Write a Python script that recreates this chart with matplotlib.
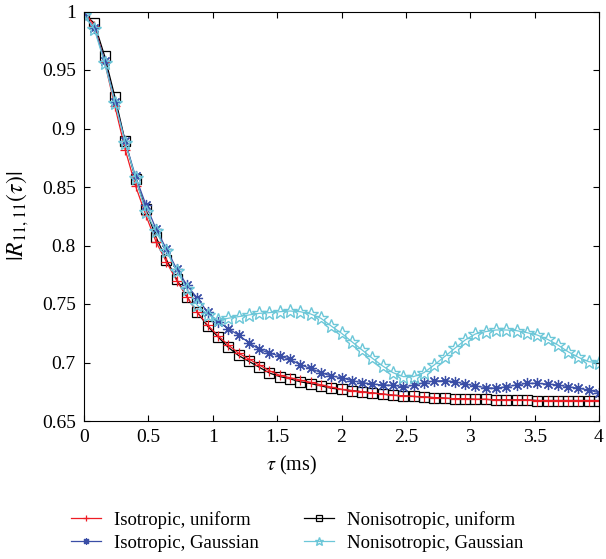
import numpy as np
import matplotlib
matplotlib.use("Agg")
import matplotlib.pyplot as plt
from matplotlib.ticker import FuncFormatter

plt.rcParams['font.family'] = ['Liberation Serif', 'DejaVu Serif']
plt.rcParams['mathtext.fontset'] = 'stix'

# sample times (ms)
tau = [0.00, 0.08, 0.16, 0.24, 0.32, 0.40, 0.48, 0.56, 0.64, 0.72,
       0.80, 0.88, 0.96, 1.04, 1.12, 1.20, 1.28, 1.36, 1.44, 1.52,
       1.60, 1.68, 1.76, 1.84, 1.92, 2.00, 2.08, 2.16, 2.24, 2.32,
       2.40, 2.48, 2.56, 2.64, 2.72, 2.80, 2.88, 2.96, 3.04, 3.12,
       3.20, 3.28, 3.36, 3.44, 3.52, 3.60, 3.68, 3.76, 3.84, 3.92, 4.00]

iso_uniform = [1.000, 0.988, 0.957, 0.919, 0.882, 0.851, 0.826, 0.803, 0.786, 0.770,
               0.756, 0.743, 0.732, 0.723, 0.715, 0.708, 0.703, 0.698, 0.693, 0.689,
               0.687, 0.685, 0.683, 0.681, 0.679, 0.677, 0.676, 0.675, 0.674, 0.673,
               0.672, 0.6715, 0.671, 0.6705, 0.670, 0.6695, 0.669, 0.669, 0.6685, 0.6685,
               0.668, 0.668, 0.668, 0.668, 0.6675, 0.6675, 0.6675, 0.6675, 0.6675, 0.6675, 0.6675]

noniso_uniform = [0.998, 0.990, 0.962, 0.927, 0.889, 0.857, 0.831, 0.807, 0.788, 0.771,
                  0.756, 0.743, 0.731, 0.722, 0.713, 0.706, 0.701, 0.696, 0.691, 0.688,
                  0.686, 0.6835, 0.682, 0.680, 0.678, 0.677, 0.676, 0.675, 0.674, 0.673,
                  0.672, 0.6715, 0.671, 0.6705, 0.670, 0.6695, 0.669, 0.669, 0.6685, 0.6685,
                  0.668, 0.668, 0.668, 0.668, 0.6675, 0.6675, 0.6675, 0.6675, 0.6675, 0.6675, 0.6675]

iso_gauss = [0.997, 0.986, 0.958, 0.923, 0.889, 0.859, 0.835, 0.814, 0.797, 0.780,
             0.766, 0.755, 0.743, 0.735, 0.729, 0.7235, 0.717, 0.7113, 0.708, 0.7056,
             0.7027, 0.698, 0.695, 0.6913, 0.6885, 0.687, 0.6845, 0.6828, 0.6816, 0.6808,
             0.6805, 0.6793, 0.6805, 0.6828, 0.6842, 0.6845, 0.6836, 0.6816, 0.680, 0.6785,
             0.678, 0.6793, 0.6808, 0.6822, 0.6822, 0.6816, 0.6808, 0.6793, 0.678, 0.6765, 0.6742]

noniso_gauss = [0.997, 0.985, 0.956, 0.922, 0.888, 0.858, 0.8285, 0.812, 0.795, 0.7785,
                0.7626, 0.749, 0.741, 0.736, 0.7378, 0.7392, 0.7406, 0.742, 0.7426, 0.7434,
                0.744, 0.7434, 0.7415, 0.7378, 0.7312, 0.725, 0.7178, 0.7107, 0.7036, 0.697,
                0.6913, 0.6879, 0.6879, 0.6913, 0.6979, 0.705, 0.7121, 0.7192, 0.7244, 0.7264,
                0.7278, 0.7278, 0.7272, 0.7255, 0.7235, 0.7198, 0.715, 0.7092, 0.7044, 0.7007, 0.6998]

fig = plt.figure(figsize=(6.06, 5.59), dpi=100)
# axes box in pixels: x 84..599, y 11.5..421
ax = fig.add_axes([84 / 606, 1 - 421 / 559, 515 / 606, 409.5 / 559])

lw = 0.9
l_nu, = ax.plot(tau, noniso_uniform, color='black', lw=lw, marker='s',
                ms=6.5, mfc='none', mew=0.9, label='Nonisotropic, uniform')
l_iu, = ax.plot(tau, iso_uniform, color='#ee1c24', lw=lw, marker='+',
                ms=7, mew=0.9, label='Isotropic, uniform')
l_ig, = ax.plot(tau, iso_gauss, color='#3a4ea6', lw=lw, marker=(8, 2, 0),
                ms=8, mew=0.9, label='Isotropic, Gaussian')
l_ng, = ax.plot(tau, noniso_gauss, color='#6cc7d8', lw=lw, marker='*',
                ms=10.5, mfc='none', mew=1.0, label='Nonisotropic, Gaussian')

ax.set_xlim(0, 4)
ax.set_ylim(0.65, 1)
ax.set_xticks([0, 0.5, 1, 1.5, 2, 2.5, 3, 3.5, 4])
ax.set_yticks([0.65, 0.7, 0.75, 0.8, 0.85, 0.9, 0.95, 1])
fmt = FuncFormatter(lambda v, p: '%g' % v)
ax.xaxis.set_major_formatter(fmt)
ax.yaxis.set_major_formatter(fmt)
ax.tick_params(direction='in', top=True, right=True, length=4, width=0.8,
               labelsize=14, pad=6)
for s in ax.spines.values():
    s.set_linewidth(0.8)

ax.set_xlabel(r'$\tau$ (ms)', fontsize=14.5)
ax.xaxis.set_label_coords((292 - 84) / 515, -0.08)
ax.set_ylabel(r'$|R_{11,11}(\tau)|$', fontsize=17)
ax.yaxis.set_label_coords(-(84 - 31) / 515, 0.5)

fig.legend(handles=[l_iu, l_ig, l_nu, l_ng], ncol=2, frameon=False,
           loc='upper center', bbox_to_anchor=(0.49, 1 - 494 / 559),
           fontsize=13.5, handlelength=1.6, columnspacing=2.4,
           handletextpad=0.7, labelspacing=0.3, markerscale=0.6)

fig.savefig('out.png', dpi=100)
